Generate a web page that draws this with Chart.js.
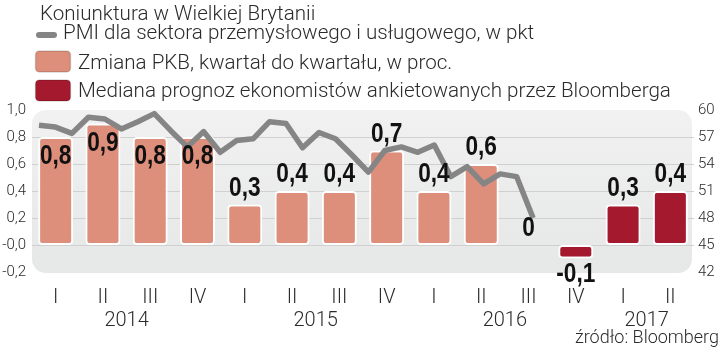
<!DOCTYPE html>
<html>
<head>
<meta charset="utf-8">
<script src="https://cdn.jsdelivr.net/npm/chart.js@4/dist/chart.umd.min.js"></script>
<style>
  html, body { margin: 0; padding: 0; background: #fff; }
</style>
</head>
<body>
<canvas id="wykres" width="720" height="347"></canvas>
<script>
// 1. Dane
const kwartaly = ['I', 'II', 'III', 'IV', 'I', 'II', 'III', 'IV', 'I', 'II', 'III', 'IV', 'I', 'II'];
const lataKwartalow = ['2014', '2014', '2014', '2014', '2015', '2015', '2015', '2015', '2016', '2016', '2016', '2016', '2017', '2017'];
const pkbFakt = [0.8, 0.9, 0.8, 0.8, 0.3, 0.4, 0.4, 0.7, 0.4, 0.6, null, null, null, null];
const pkbPrognoza = [null, null, null, null, null, null, null, null, null, null, 0, -0.1, 0.3, 0.4];
// PMI miesięcznie, od stycznia 2014
const pmi = [58.3, 58.1, 57.4, 59.2, 59.0, 57.9, 58.7, 59.6, 57.7, 55.9,
             57.6, 55.3, 56.6, 56.8, 58.7, 58.5, 55.8, 57.5, 56.8, 55.0,
             53.1, 55.5, 55.9, 55.3, 56.1, 52.6, 53.7, 51.8, 52.9, 52.6, 48.0];
const tickiLewe = ['-0,2', '-0,0', '0,2', '0,4', '0,6', '0,8', '1,0'];
const tickiPrawe = [42, 45, 48, 51, 54, 57, 60];

const kolorFakt = '#dd8f7b';
const kolorPrognoza = '#a5192f';
const kolorPmi = '#858585';
const tekst = '#2b2b2b';

// 2. Pluginy
const tlo = {
    id: 'tlo',
    beforeDraw(chart) {
        const { ctx, chartArea: a } = chart;
        const g = ctx.createLinearGradient(0, a.top, 0, a.bottom);
        g.addColorStop(0, '#f1f1f1');
        g.addColorStop(1, '#e6e7e7');
        ctx.save();
        ctx.fillStyle = g;
        ctx.beginPath();
        ctx.roundRect(a.left, a.top, a.right - a.left - 2, a.bottom - a.top + 1, 14);
        ctx.fill();
        ctx.restore();
    }
};

function formatuj(v) {
    if (v === 0) return '0';
    return v.toFixed(1).replace('.', ',');
}

const etykiety = {
    id: 'etykiety',
    afterDatasetsDraw(chart) {
        const { ctx } = chart;
        ctx.save();
        ctx.font = 'bold 27px "Liberation Sans", Arial, sans-serif';
        ctx.fillStyle = '#111';
        ctx.textAlign = 'center';
        ctx.textBaseline = 'middle';
        [0, 1].forEach(i => {
            const meta = chart.getDatasetMeta(i);
            chart.data.datasets[i].data.forEach((v, j) => {
                if (v === null) return;
                const bar = meta.data[j];
                let y;
                if (v < 0) y = bar.y + 16;
                else if (v >= 0.8) y = bar.y + 20;
                else y = bar.y - 16;
                // wąski krój: ściskamy poziomo
                ctx.save();
                ctx.translate(bar.x, y);
                ctx.scale(0.84, 1);
                ctx.fillText(formatuj(v), 0, 0);
                ctx.restore();
            });
        });
        ctx.restore();
    }
};

const opisy = {
    id: 'opisy',
    afterDraw(chart) {
        const { ctx } = chart;
        const x = chart.scales.x;
        ctx.save();
        ctx.fillStyle = tekst;
        ctx.font = '300 20.6px Roboto';
        ctx.textBaseline = 'alphabetic';
        ctx.textAlign = 'left';
        ctx.fillText('Koniunktura w Wielkiej Brytanii', 40, 20);

        // legenda
        ctx.strokeStyle = kolorPmi;
        ctx.lineWidth = 6;
        ctx.lineCap = 'round';
        ctx.beginPath();
        ctx.moveTo(39, 35);
        ctx.lineTo(54, 35);
        ctx.stroke();
        ctx.fillText('PMI dla sektora przemysłowego i usługowego, w pkt', 63, 39);

        [[kolorFakt, 51, 'Zmiana PKB, kwartał do kwartału, w proc.', 69],
         [kolorPrognoza, 80, 'Mediana prognoz ekonomistów ankietowanych przez Bloomberga', 97]
        ].forEach(([kolor, top, napis, base]) => {
            ctx.fillStyle = kolor;
            ctx.strokeStyle = 'rgba(0,0,0,0.15)';
            ctx.lineWidth = 1.5;
            ctx.beginPath();
            ctx.roundRect(35.5, top, 35, 21, 4);
            ctx.fill();
            ctx.stroke();
            ctx.fillStyle = tekst;
            ctx.fillText(napis, 78, base);
        });

        // lata pod kwartałami
        ctx.font = '300 20px Roboto';
        ctx.textAlign = 'center';
        ctx.textBaseline = 'middle';
        const lata = [...new Set(lataKwartalow)];
        lata.forEach(rok => {
            const idx = lataKwartalow.map((r, i) => r === rok ? i : -1).filter(i => i >= 0);
            const srodek = idx.reduce((s, i) => s + x.getPixelForValue(i), 0) / idx.length;
            ctx.fillText(rok, srodek, 321);
        });

        ctx.font = '300 18px Roboto';
        ctx.textAlign = 'right';
        ctx.fillText('źródło: Bloomberg', 719, 338);
        ctx.restore();
    }
};

// 3. Wykres
new Chart(document.getElementById('wykres'), {
    data: {
        labels: kwartaly,
        datasets: [
            {
                type: 'bar',
                data: pkbFakt,
                backgroundColor: kolorFakt,
                borderColor: '#ffffff',
                borderWidth: 2,
                borderRadius: 4,
                borderSkipped: false,
                grouped: false,
                barPercentage: 0.74,
                categoryPercentage: 1,
                yAxisID: 'y',
                order: 2
            },
            {
                type: 'bar',
                data: pkbPrognoza,
                backgroundColor: kolorPrognoza,
                borderColor: '#ffffff',
                borderWidth: 2,
                borderRadius: 4,
                borderSkipped: false,
                grouped: false,
                barPercentage: 0.74,
                categoryPercentage: 1,
                yAxisID: 'y',
                order: 2
            },
            {
                type: 'line',
                data: pmi.map((v, i) => ({ x: i, y: v })),
                borderColor: kolorPmi,
                borderWidth: 5.5,
                borderJoinStyle: 'round',
                borderCapStyle: 'butt',
                pointRadius: 0,
                tension: 0,
                xAxisID: 'xl',
                yAxisID: 'y2',
                order: 0
            }
        ]
    },
    options: {
        responsive: false,
        animation: false,
        events: [],
        layout: { padding: { top: 110, left: 0, right: 0, bottom: 0 } },
        plugins: { legend: { display: false }, tooltip: { enabled: false } },
        scales: {
            x: {
                type: 'category',
                grid: { display: false, drawTicks: false },
                border: { display: false },
                ticks: { color: tekst, font: { family: 'Roboto', size: 20, weight: 300 }, padding: 14, maxRotation: 0, autoSkip: false },
                afterFit: s => { s.height = 75; }
            },
            xl: { type: 'linear', display: false, min: -0.425, max: 39.77 },
            y: {
                position: 'left',
                min: -0.2,
                max: 1.0,
                ticks: {
                    stepSize: 0.2,
                    padding: 6,
                    color: tekst,
                    font: { family: 'Roboto', size: 15, weight: 300 },
                    callback: v => tickiLewe[Math.round((v + 0.2) * 5)]
                },
                grid: {
                    drawTicks: false,
                    lineWidth: 1,
                    color: c => {
                        const v = Math.round(c.tick.value * 10);
                        return (v <= -2 || v >= 10) ? 'transparent' : '#d0d0d0';
                    }
                },
                border: { display: false },
                afterFit: s => { s.width = 32; }
            },
            y2: {
                position: 'right',
                min: 42,
                max: 60,
                ticks: {
                    stepSize: 3,
                    padding: 4,
                    color: tekst,
                    font: { family: 'Roboto', size: 15, weight: 300 },
                    callback: v => tickiPrawe.includes(v) ? String(v) : ''
                },
                grid: { display: false, drawTicks: false },
                border: { display: false },
                afterFit: s => { s.width = 26; }
            }
        }
    },
    plugins: [tlo, etykiety, opisy]
});
</script>
</body>
</html>
